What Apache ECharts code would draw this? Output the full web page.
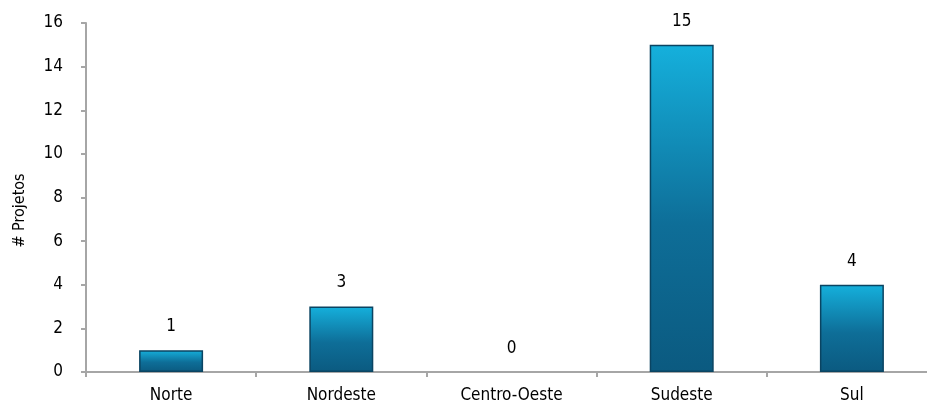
<!DOCTYPE html>
<html>
<head>
<meta charset="utf-8">
<script src="https://cdn.jsdelivr.net/npm/echarts@6/dist/echarts.min.js"></script>
<style>html,body{margin:0;padding:0;background:#fff;}#c{width:927px;height:405px;}</style>
</head>
<body>
<div id="c"></div>
<script>
const categories = ['Norte', 'Nordeste', 'Centro-Oeste', 'Sudeste', 'Sul'];
const projetos = [1, 3, 0, 15, 4];
const yTicks = [0, 2, 4, 6, 8, 10, 12, 14, 16];

const FONT = "'DejaVu Sans Condensed', 'Liberation Sans Narrow', sans-serif";
const chart = echarts.init(document.getElementById('c'));
chart.setOption({
  animation: false,
  grid: { left: 86, width: 851, top: 23, bottom: 33, containLabel: false, outerBoundsMode: 'none' },
  xAxis: {
    type: 'category',
    data: categories,
    axisLine: { lineStyle: { color: '#a6a6a6', width: 2 } },
    axisTick: { show: true, length: 5, lineStyle: { color: '#a6a6a6', width: 2 } },
    axisLabel: { color: '#000', fontFamily: FONT, fontSize: 17, margin: 15 }
  },
  yAxis: {
    type: 'value',
    min: yTicks[0],
    max: yTicks[yTicks.length - 1],
    interval: 2,
    name: '# Projetos',
    nameLocation: 'middle',
    nameGap: 58,
    nameTextStyle: { color: '#000', fontFamily: FONT, fontSize: 16, padding: [0, 26, 0, 0] },
    axisLine: { show: true, lineStyle: { color: '#a6a6a6', width: 2 } },
    axisTick: { show: true, length: 5, lineStyle: { color: '#a6a6a6', width: 2 } },
    splitLine: { show: false },
    axisLabel: { color: '#000', fontFamily: FONT, fontSize: 17, margin: 23 }
  },
  series: [{
    type: 'bar',
    data: projetos.map(v => ({ value: v, itemStyle: v === 0 ? { borderWidth: 0 } : undefined })),
    barWidth: 64,
    itemStyle: {
      color: new echarts.graphic.LinearGradient(0, 0, 0, 1, [
        { offset: 0, color: '#15b0dc' },
        { offset: 0.55, color: '#0e6e98' },
        { offset: 1, color: '#0b5a80' }
      ]),
      borderColor: '#0a4462',
      borderWidth: 1.5
    },
    label: {
      show: true,
      position: 'top',
      distance: 15,
      color: '#000',
      fontFamily: FONT,
      fontSize: 17
    }
  }]
});
</script>
</body>
</html>
